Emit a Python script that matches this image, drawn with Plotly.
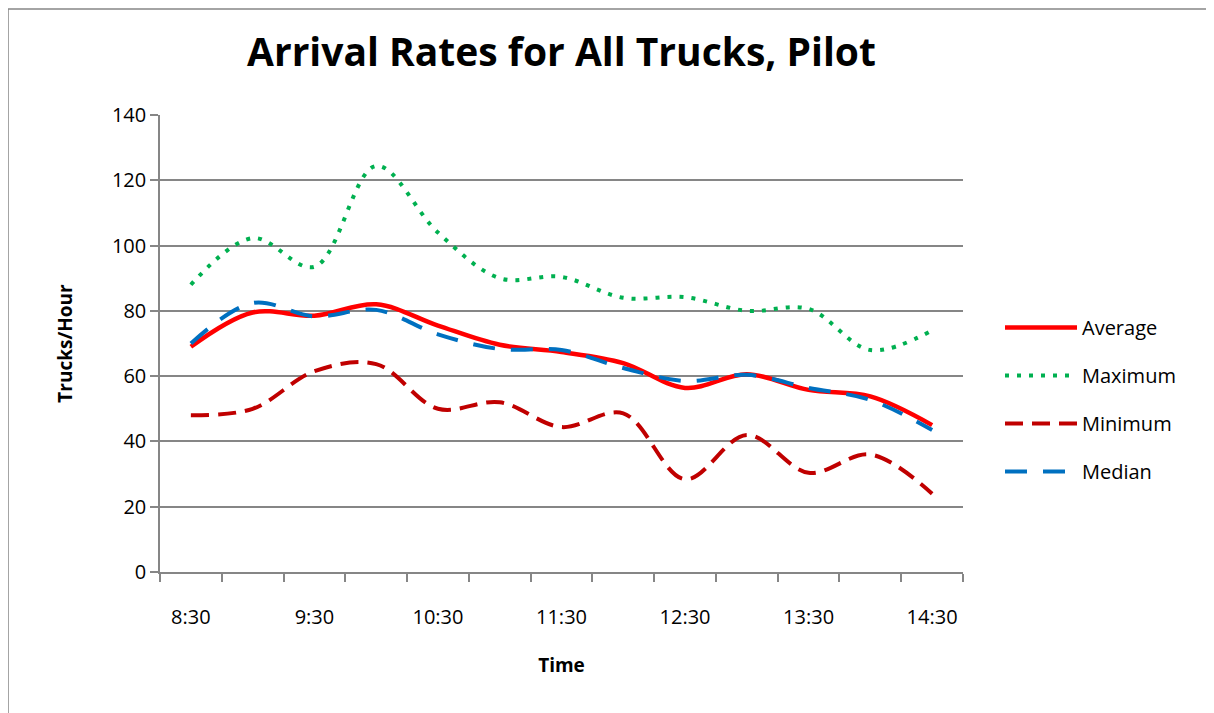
import plotly.graph_objects as go

# category axis: half-hour slots, only the ":30" of each hour is labelled
times = ["8:30", "9:00", "9:30", "10:00", "10:30", "11:00", "11:30",
         "12:00", "12:30", "13:00", "13:30", "14:00", "14:30"]
tick_labels = ["8:30", "", "9:30", "", "10:30", "", "11:30",
               "", "12:30", "", "13:30", "", "14:30"]

average = [69, 79.5, 78.5, 82, 75.5, 69.6, 67.4, 64, 56.4, 60.6, 55.8, 53.8, 45]
maximum = [88, 102.3, 93.5, 124.4, 104, 90, 90.4, 84, 84.2, 80, 80.6, 68, 74]
minimum = [48, 50, 61.5, 63.7, 50, 52, 44.4, 48.6, 28.4, 42, 30.4, 36, 24]
median = [70, 82.4, 78.3, 80.3, 72.8, 68.3, 68, 62.5, 58.5, 60.4, 56.4, 52.7, 43.5]

FONT = "Open Sans"
OFF = 8  # page body margin
W, H = 1214 - OFF, 713 - OFF
# plot area in window pixels: x 160..963, y 115..572
L, T = 160 - OFF, 115 - OFF
R, B = W - (963 - OFF), H - (572 - OFF)


def px_x(p):
    return (p - 160) / (963 - 160)


def px_y(p):
    return (572 - p) / (572 - 115)


series = [
    ("Average", average, dict(color="#FF0000", width=4.5, dash="solid")),
    ("Maximum", maximum, dict(color="#00B050", width=4, dash="4px,8px")),
    ("Minimum", minimum, dict(color="#C00000", width=4, dash="18px,9px")),
    ("Median", median, dict(color="#0070C0", width=4, dash="22px,16px")),
]

fig = go.Figure()
for name, vals, line in series:
    fig.add_trace(go.Scatter(
        x=times, y=vals, name=name, mode="lines",
        line=dict(shape="spline", smoothing=1, **line),
        legendgroup=name,
    ))

fig.update_layout(
    width=W, height=H,
    margin=dict(l=L, r=R, t=T, b=B),
    paper_bgcolor="white",
    plot_bgcolor="white",
    font=dict(family=FONT, size=20, color="black"),
    title=dict(
        text="<b>Arrival Rates for All Trucks, Pilot</b>",
        x=0.5, xref="paper", xanchor="center",
        y=1 - (52 - OFF) / H, yanchor="middle",
        font=dict(family=FONT, size=39, color="black"),
    ),
    legend=dict(
        x=px_x(1000), xanchor="left",
        y=px_y(308), yanchor="top",
        font=dict(family=FONT, size=20),
        itemwidth=72,
        tracegroupgap=19,
        bgcolor="rgba(0,0,0,0)",
    ),
    showlegend=True,
    shapes=[dict(
        type="rect", xref="paper", yref="paper",
        x0=px_x(8), x1=px_x(1209), y0=px_y(740), y1=px_y(9),
        line=dict(color="#868686", width=1.5), layer="below",
    )],
)

fig.update_xaxes(
    type="category",
    range=[-0.5, len(times) - 0.5],
    tickvals=times, ticktext=tick_labels,
    tickson="boundaries",
    ticks="outside", ticklen=8, tickwidth=1.5, tickcolor="#868686",
    showline=True, linecolor="#868686", linewidth=1.5,
    showgrid=False,
    ticklabelstandoff=26,
    title=dict(text="<b>Time</b>", standoff=30, font=dict(size=19)),
)

fig.update_yaxes(
    range=[0, 140], dtick=20,
    ticks="outside", ticklen=8, tickwidth=1.5, tickcolor="#868686",
    showline=True, linecolor="#868686", linewidth=1.5,
    showgrid=True, gridcolor="#868686", gridwidth=1.5,
    zeroline=False,
    tickfont=dict(size=20),
    title=dict(text="<b>Trucks/Hour</b>", standoff=34, font=dict(size=19)),
)

fig.write_html("out.html")
